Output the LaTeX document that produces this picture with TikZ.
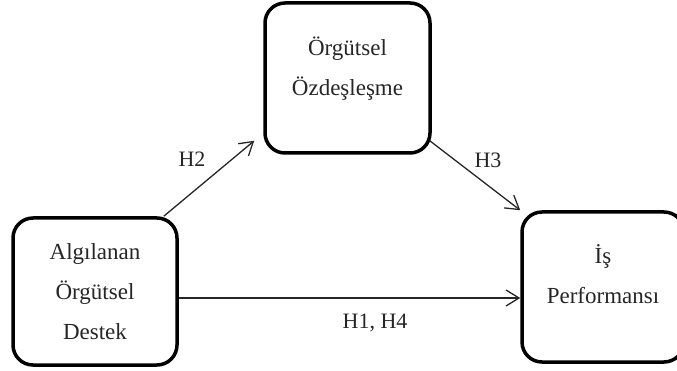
\documentclass[tikz,border=0pt]{standalone}
\usepackage{fontspec}
\setmainfont{Liberation Serif}
\usetikzlibrary{arrows.meta}
\begin{document}
\begin{tikzpicture}[x=1pt,y=-1pt,
  kutu/.style={draw, line width=3.5pt, rounded corners=20pt, align=center, font=\fontsize{23}{40}\selectfont, text=black!85},
  ok/.style={-{Straight Barb[length=13pt,width=16pt]}, line width=1.3pt, draw=black!85},
  etiket/.style={font=\fontsize{22}{26}\selectfont, anchor=base, text=black!85}]
\useasboundingbox (0,0) rectangle (677,371);
\node[kutu, minimum width=164pt, minimum height=147pt] (alg) at (95,291.5){Algılanan\\Örgütsel\\Destek};
\node[kutu, minimum width=165pt, minimum height=150pt, text depth=24pt] (ozd) at (347.5,78){Örgütsel\\Özdeşleşme};
\node[kutu, minimum width=162pt, minimum height=150pt, text depth=25pt] (is) at (603,287){İş\\Performansı};
\draw[ok] ([xshift=-15pt]alg.north east) -- ([shift={(-9pt,14pt)}]ozd.south west);
\draw[ok] ([shift={(-2pt,14pt)}]ozd.south east) -- (is.north west);
\draw[ok] ([yshift=-6.5pt]alg.east) -- ([yshift=-6.5pt]alg.east -| is.west);
\node[etiket] (h2) at (192,167){H2};
\node[etiket] (h3) at (488,168){H3};
\node[etiket] (h14) at (375,328){H1, H4};

\end{tikzpicture}
\end{document}
